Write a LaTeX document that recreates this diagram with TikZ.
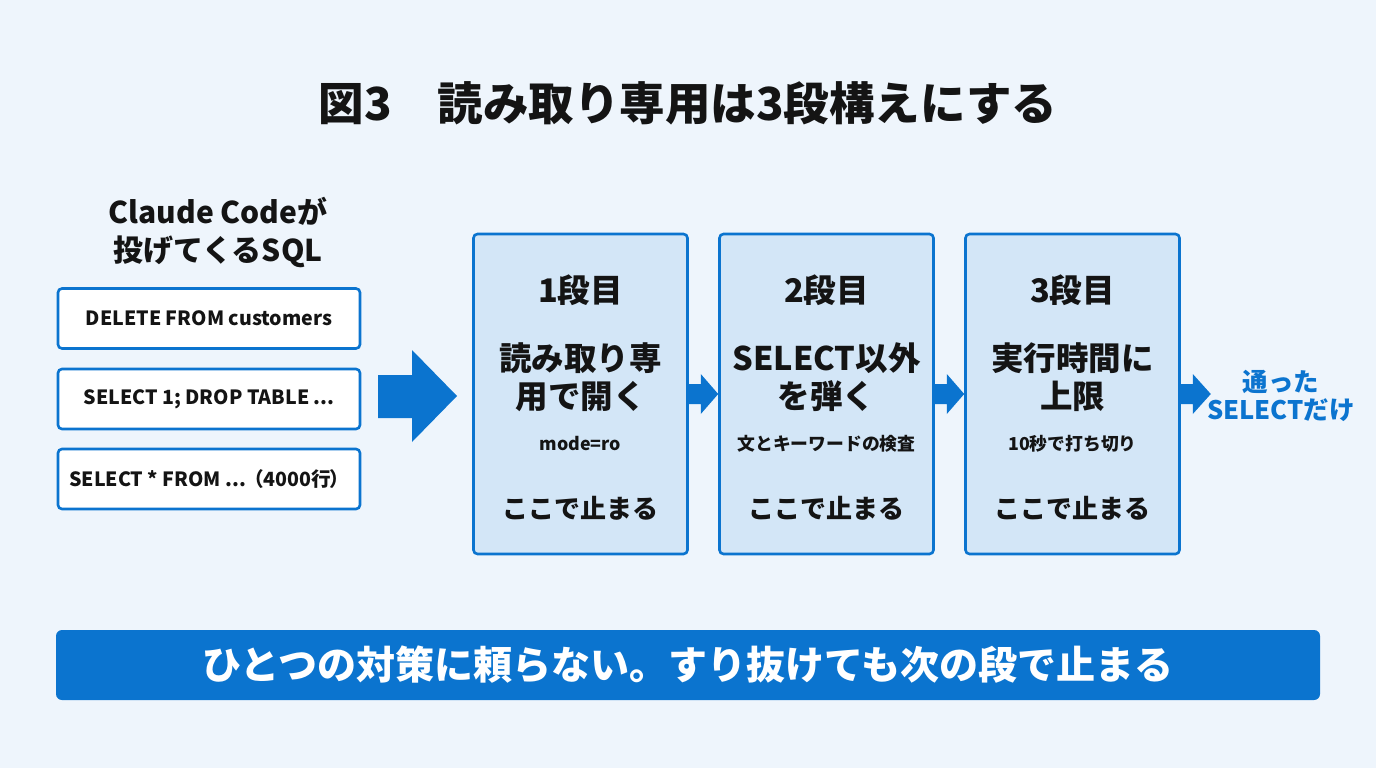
\documentclass[tikz,border=0pt]{standalone}
\usepackage{fontspec}
\setmainfont{Noto Sans CJK JP}
\usetikzlibrary{positioning}
\definecolor{bg}{HTML}{EEF5FC}
\definecolor{mainblue}{HTML}{0B74CF}
\definecolor{stagefill}{HTML}{D3E6F7}
\definecolor{txt}{HTML}{141414}
\newcommand{\fs}[1]{\fontsize{#1}{#1}\selectfont}
\tikzset{
  x=1pt,y=-1pt,
  sqlbox/.style={draw=mainblue,line width=2.6pt,fill=white,rounded corners=4pt,minimum width=302pt,minimum height=60pt,inner sep=0pt,font=\bfseries\fs{19.6}\color{txt}},
  stagebox/.style={draw=mainblue,line width=2.6pt,fill=stagefill,rounded corners=4pt,minimum width=214pt,minimum height=320pt,inner sep=0pt},
  stlabel/.style={font=\bfseries\fs{32.5}\color{txt}},
  sttitle/.style={font=\bfseries\fs{32.5},text=txt,align=center},
  stsub/.style={font=\bfseries\fs{17.8},text=txt},
  ststop/.style={font=\bfseries\fs{26},text=txt},
}
\begin{document}
\begin{tikzpicture}
\fill[bg] (0,0) rectangle (1376,768);
\useasboundingbox (0,0) rectangle (1376,768);
% title
\node[font=\bfseries\fs{45.5},text=txt] (title) at (688,103) {図3\hspace{1em}読み取り専用は3段構えにする};
% left header
\node[font=\bfseries\fs{30},text=txt,align=center] (hdr) at (218,232) {Claude Codeが\\[8pt]投げてくるSQL};
% sql boxes
\node[sqlbox] (q1) at (209,318.5) {DELETE FROM customers};
\node[sqlbox] (q2) at (209,399) {SELECT 1; DROP TABLE ...};
\node[sqlbox] (q3) at (209,479) {SELECT * FROM ...\kern-2pt（4000行\kern-2pt）};
% big arrow
\fill[mainblue] (378,375) -- (412,375) -- (412,350) -- (457,396) -- (412,442) -- (412,418) -- (378,418) -- cycle;
% stage boxes
\node[stagebox] (s1) at (580.5,394) {};
\node[stagebox] (s2) at (826.5,394) {};
\node[stagebox] (s3) at (1072.5,394) {};
\foreach \s/\n/\t/\u in {s1/1/{読み取り専\\[6pt]用で開く}/mode=ro, s2/2/{SELECT以外\\[6pt]を弾く}/文とキーワードの検査, s3/3/{実行時間に\\[6pt]上限}/10秒で打ち切り}{
  \node[stlabel] (\s-lab) at ([yshift=104pt]\s.center) {\n 段目};
  \node[sttitle] (\s-tit) at ([yshift=17pt]\s.center) {\t};
  \node[stsub] (\s-sub) at ([yshift=-50pt]\s.center) {\u};
  \node[ststop] (\s-stop) at ([yshift=-114pt]\s.center) {ここで止まる};
}
% small arrows
\foreach \a/\b in {s1/s2, s2/s3}{
  \fill[mainblue] ([yshift=-10pt]\a.east) -- ([xshift=12pt,yshift=-10pt]\a.east) -- ([xshift=12pt,yshift=-20pt]\a.east) -- (\b.west) -- ([xshift=12pt,yshift=20pt]\a.east) -- ([xshift=12pt,yshift=10pt]\a.east) -- ([yshift=10pt]\a.east) -- cycle;
}
\node[font=\bfseries\fs{25.5},text=mainblue,align=center] (out) at (1281,396) {通った\\[2pt]SELECTだけ};
\fill[mainblue] ([yshift=-10pt]s3.east) -- ([xshift=12pt,yshift=-10pt]s3.east) -- ([xshift=12pt,yshift=-20pt]s3.east) -- ([xshift=30pt]s3.east) -- ([xshift=12pt,yshift=20pt]s3.east) -- ([xshift=12pt,yshift=10pt]s3.east) -- ([yshift=10pt]s3.east) -- cycle;
% banner
\node[fill=mainblue,rounded corners=6pt,minimum width=1264pt,minimum height=70pt,inner sep=0pt,font=\bfseries\fs{39},text=white] (banner) at (688,665) {ひとつの対策に頼らない。すり抜けても次の段で止まる};
\end{tikzpicture}
\end{document}
